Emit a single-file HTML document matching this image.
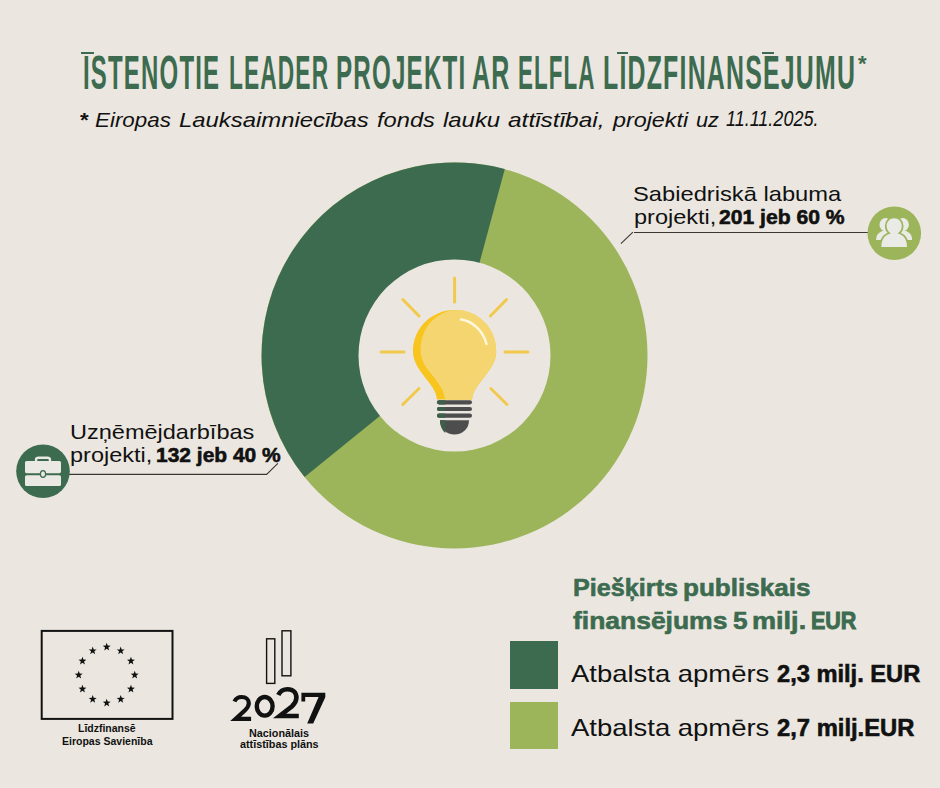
<!DOCTYPE html>
<html><head><meta charset="utf-8">
<style>
html,body{margin:0;padding:0;}
body{width:940px;height:788px;background:#EBE7E0;position:relative;overflow:hidden;font-family:"Liberation Sans",sans-serif;color:#111;}
.a{position:absolute;white-space:nowrap;}
.sx{display:inline-block;transform-origin:0 0;}
.hv{-webkit-text-stroke-width:0.6px;}
</style></head><body>

<!-- Title -->
<div class="a" style="left:83.4px;top:47.5px;font-size:49px;line-height:49px;font-weight:700;color:#3D6B4F;letter-spacing:2.4px"><span class="sx" style="transform:scaleX(0.4897)">ISTENOTIE</span></div>
<div class="a" style="left:228.6px;top:47.5px;font-size:49px;line-height:49px;font-weight:700;color:#3D6B4F;letter-spacing:2.4px"><span class="sx" style="transform:scaleX(0.4641)">LEADER</span></div>
<div class="a" style="left:336.2px;top:47.5px;font-size:49px;line-height:49px;font-weight:700;color:#3D6B4F;letter-spacing:2.4px"><span class="sx" style="transform:scaleX(0.4934)">PROJEKTI</span></div>
<div class="a" style="left:471.9px;top:47.5px;font-size:49px;line-height:49px;font-weight:700;color:#3D6B4F;letter-spacing:2.4px"><span class="sx" style="transform:scaleX(0.5099)">AR</span></div>
<div class="a" style="left:517.8px;top:47.5px;font-size:49px;line-height:49px;font-weight:700;color:#3D6B4F;letter-spacing:2.4px"><span class="sx" style="transform:scaleX(0.4571)">ELFLA</span></div>
<div class="a" style="left:602.8px;top:47.5px;font-size:49px;line-height:49px;font-weight:700;color:#3D6B4F;letter-spacing:2.4px"><span class="sx" style="transform:scaleX(0.5075)">LIDZFINANSEJUMU</span></div>
<div class="a" style="left:81.1px;top:51.8px;width:12.8px;height:2px;background:#3D6B4F"></div>
<div class="a" style="left:616.6px;top:51.8px;width:11.9px;height:2px;background:#3D6B4F"></div>
<div class="a" style="left:762px;top:51.9px;width:11.9px;height:2px;background:#3D6B4F"></div>
<div class="a" style="left:858px;top:53px;font-size:22px;font-weight:700;color:#3D6B4F;line-height:22px;">*</div>

<div class="a" style="left:80.3px;top:109px;font-size:21px;line-height:21px;font-weight:700"><span class="sx" style="transform:scaleX(1.0625)">*</span></div>
<div class="a" style="left:95.1px;top:109px;font-size:21px;line-height:21px;font-style:italic"><span class="sx" style="transform:scaleX(1.0648)">Eiropas</span></div>
<div class="a" style="left:178.8px;top:109px;font-size:21px;line-height:21px;font-style:italic"><span class="sx" style="transform:scaleX(1.1371)">Lauksaimniecības</span></div>
<div class="a" style="left:377.0px;top:109px;font-size:21px;line-height:21px;font-style:italic"><span class="sx" style="transform:scaleX(1.1275)">fonds</span></div>
<div class="a" style="left:443.1px;top:109px;font-size:21px;line-height:21px;font-style:italic"><span class="sx" style="transform:scaleX(1.1380)">lauku</span></div>
<div class="a" style="left:507.9px;top:109px;font-size:21px;line-height:21px;font-style:italic"><span class="sx" style="transform:scaleX(1.1642)">attīstībai,</span></div>
<div class="a" style="left:612.9px;top:109px;font-size:21px;line-height:21px;font-style:italic"><span class="sx" style="transform:scaleX(1.1101)">projekti</span></div>
<div class="a" style="left:695.6px;top:109px;font-size:21px;line-height:21px;font-style:italic"><span class="sx" style="transform:scaleX(1.0333)">uz</span></div>
<div class="a" style="left:726.4px;top:107.5px;font-size:22.5px;line-height:22.5px;font-style:italic"><span class="sx" style="transform:scaleX(0.8000)">11.11.2025.</span></div>

<!-- Donut -->
<svg class="a" style="left:0;top:0" width="940" height="788" viewBox="0 0 940 788">
  <circle cx="454.5" cy="355.5" r="193" fill="#9CB55B"/>
  <path d="M454.5 355.5 L304.6 476.9 A193 193 0 0 1 504.8 169.1 Z" fill="#3D6B4F"/>
  <circle cx="454.5" cy="355.5" r="96" fill="#EBE7E0"/>
  <!-- rays -->
  <g stroke="#F2C94C" stroke-width="3" stroke-linecap="round">
    <line x1="454.6" y1="278" x2="454.6" y2="302"/>
    <line x1="402.8" y1="299.5" x2="419" y2="316"/>
    <line x1="506.6" y1="299.5" x2="490.4" y2="316"/>
    <line x1="381" y1="352" x2="404" y2="352"/>
    <line x1="505" y1="352" x2="528" y2="352"/>
    <line x1="402.8" y1="404.5" x2="419" y2="388.5"/>
    <line x1="490.8" y1="388.5" x2="507" y2="404.5"/>
  </g>
  <!-- bulb -->
  <path d="M437 399.5 C436 390 430 384 424 376 C417 367 413 360 413 351 C413 328 431.5 310 454.6 310 C477.7 310 496.2 328 496.2 351 C496.2 360 492 367 485 376 C479 384 473 390 472 399.5 Z" fill="#F7C51E"/>
  <path d="M445 400.5 C444.5 392 440.5 386 434.5 378 C426 368 420.5 360 420.5 351 C420.5 327 437 310 458 310 C479 311 496.2 328 496.2 351 C496.2 360 492 367 485 376 C479 384 473 390 472 399.5 Z" fill="#F5D56F"/>
  <path d="M461 319.5 C472 321 483 330 486.5 344" stroke="#FFF8E0" stroke-width="2.4" fill="none" stroke-linecap="round"/>
  <g fill="#4D4D4D">
    <rect x="437" y="400.2" width="35" height="4.2" rx="2.1"/>
    <rect x="437" y="406.9" width="35" height="4.1" rx="2.05"/>
    <rect x="437" y="413.6" width="35" height="4.1" rx="2.05"/>
    <path d="M440 420.3 L469 420.3 C469 429 462.5 434.5 454.5 434.5 C446.5 434.5 440 429 440 420.3 Z"/>
  </g>
  <g fill="#3D5F49">
    <path d="M439.1 400.2 L445.4 400.2 L445.4 404.4 L439.1 404.4 A2.1 2.1 0 0 1 439.1 400.2Z"/>
    <path d="M439.05 406.9 L445.4 406.9 L445.4 411 L439.05 411 A2.05 2.05 0 0 1 439.05 406.9Z"/>
    <path d="M439.05 413.6 L445.4 413.6 L445.4 417.7 L439.05 417.7 A2.05 2.05 0 0 1 439.05 413.6Z"/>
    <path d="M440 420.3 L445.4 420.3 L445.4 433 C442 430.5 440 426 440 420.3Z"/>
  </g>

  <!-- right label line -->
  <g stroke="#3a3835" stroke-width="1.1" fill="none"><line x1="620.9" y1="243.7" x2="632.9" y2="232.2"/><line x1="634" y1="232.5" x2="868" y2="232.5"/></g>
  <circle cx="894.3" cy="233.2" r="26.8" fill="#9CB55B"/>
  <!-- people icon -->
  <g fill="#EAEAE6">
    <ellipse cx="885.6" cy="224.7" rx="6.1" ry="6.6"/>
    <path d="M876.1 239.9 C876.1 234 880.5 230.6 886 230.6 C891.5 230.6 896 234 896 239.9 Z"/>
    <ellipse cx="902.8" cy="224.7" rx="6.1" ry="6.6"/>
    <path d="M892.4 239.9 C892.4 234 896.9 230.6 902.4 230.6 C907.9 230.6 912.1 234 912.1 239.9 Z"/>
  </g>
  <g fill="#EAEAE6" stroke="#9CB55B" stroke-width="3.4" style="paint-order:stroke">
    <path d="M894.2 218.3 C898.5 218.3 901.8 221.7 901.8 226 C901.8 229.5 899.8 232.2 897.5 233.6 C903.2 234.6 907 239 907 246.9 L881.4 246.9 C881.4 239 885.2 234.6 890.9 233.6 C888.6 232.2 886.6 229.5 886.6 226 C886.6 221.7 889.9 218.3 894.2 218.3 Z"/>
  </g>

  <!-- left label line -->
  <polyline points="69,474.4 266.6,474.4 277.9,463.3" fill="none" stroke="#3a3835" stroke-width="1.1"/>
  <circle cx="43" cy="471.2" r="26.8" fill="#3D6B4F"/>
  <!-- briefcase -->
  <g fill="#EBE9E4">
    <path d="M34.9 461 L34.9 459.5 C34.9 457.5 36.5 456.6 38.5 456.6 L47.5 456.6 C49.5 456.6 51.1 457.5 51.1 459.5 L51.1 461 L48.8 461 L48.8 460 C48.8 459.2 48.2 458.9 47.4 458.9 L38.6 458.9 C37.8 458.9 37.2 459.2 37.2 460 L37.2 461Z"/>
    <rect x="25" y="461" width="36" height="12.2" rx="1.6"/>
    <rect x="25" y="475.2" width="36" height="10.9" rx="1.6"/>
  </g>
  <ellipse cx="43" cy="474" rx="2.6" ry="3.3" fill="#EBE9E4" stroke="#3D6B4F" stroke-width="1.2"/>

  <!-- EU flag -->
  <rect x="41.7" y="630.9" width="130.8" height="88" fill="none" stroke="#111" stroke-width="2"/>
  <g id="stars" fill="#111"><polygon points="106.70,642.80 107.70,645.62 110.69,645.70 108.32,647.53 109.17,650.40 106.70,648.70 104.23,650.40 105.08,647.53 102.71,645.70 105.70,645.62"/><polygon points="120.70,646.55 121.70,649.38 124.69,649.45 122.32,651.28 123.17,654.15 120.70,652.45 118.23,654.15 119.08,651.28 116.71,649.45 119.70,649.38"/><polygon points="130.95,656.80 131.95,659.62 134.94,659.70 132.57,661.53 133.42,664.40 130.95,662.70 128.48,664.40 129.33,661.53 126.95,659.70 129.95,659.62"/><polygon points="134.70,670.80 135.70,673.62 138.69,673.70 136.32,675.53 137.17,678.40 134.70,676.70 132.23,678.40 133.08,675.53 130.71,673.70 133.70,673.62"/><polygon points="130.95,684.80 131.95,687.62 134.94,687.70 132.57,689.53 133.42,692.40 130.95,690.70 128.48,692.40 129.33,689.53 126.95,687.70 129.95,687.62"/><polygon points="120.70,695.05 121.70,697.87 124.69,697.95 122.32,699.77 123.17,702.65 120.70,700.95 118.23,702.65 119.08,699.77 116.71,697.95 119.70,697.87"/><polygon points="106.70,698.80 107.70,701.62 110.69,701.70 108.32,703.53 109.17,706.40 106.70,704.70 104.23,706.40 105.08,703.53 102.71,701.70 105.70,701.62"/><polygon points="92.70,695.05 93.70,697.87 96.69,697.95 94.32,699.77 95.17,702.65 92.70,700.95 90.23,702.65 91.08,699.77 88.71,697.95 91.70,697.87"/><polygon points="82.45,684.80 83.45,687.62 86.45,687.70 84.07,689.53 84.92,692.40 82.45,690.70 79.98,692.40 80.83,689.53 78.46,687.70 81.45,687.62"/><polygon points="78.70,670.80 79.70,673.62 82.69,673.70 80.32,675.53 81.17,678.40 78.70,676.70 76.23,678.40 77.08,675.53 74.71,673.70 77.70,673.62"/><polygon points="82.45,656.80 83.45,659.62 86.45,659.70 84.07,661.53 84.92,664.40 82.45,662.70 79.98,664.40 80.83,661.53 78.46,659.70 81.45,659.62"/><polygon points="92.70,646.55 93.70,649.38 96.69,649.45 94.32,651.28 95.17,654.15 92.70,652.45 90.23,654.15 91.08,651.28 88.71,649.45 91.70,649.38"/></g>

  <!-- 2027 bars -->
  <rect x="266.6" y="638.8" width="8.2" height="44.6" fill="none" stroke="#111" stroke-width="1.4"/>
  <rect x="282" y="630.8" width="8.9" height="45" fill="none" stroke="#111" stroke-width="1.4"/>

  <!-- legend squares -->
  <rect x="510" y="641" width="48" height="48" fill="#3D6B4F"/>
  <rect x="510" y="702" width="48" height="47" fill="#9CB55B"/>
</svg>

<!-- right label text -->
<div class="a" style="left:633px;top:183px;font-size:21px;line-height:21px;"><span class="sx" style="transform:scaleX(1.1288)">Sabiedriskā labuma</span></div>
<div class="a" style="left:633.6px;top:206px;font-size:21px;line-height:21px;"><span class="sx" style="transform:scaleX(1.1197)">projekti,</span></div>
<div class="a" style="left:719.4px;top:206px;font-size:21px;line-height:21px;font-weight:700"><span class="sx hv" style="transform:scaleX(1.0056)">201 jeb 60 %</span></div>

<!-- left label text -->
<div class="a" style="left:70px;top:421px;font-size:21px;line-height:21px;"><span class="sx" style="transform:scaleX(1.1198)">Uzņēmējdarbības</span></div>
<div class="a" style="left:70.4px;top:444px;font-size:21px;line-height:21px;"><span class="sx" style="transform:scaleX(1.1183)">projekti,</span></div>
<div class="a" style="left:156.2px;top:444px;font-size:21px;line-height:21px;font-weight:700"><span class="sx hv" style="transform:scaleX(0.9984)">132 jeb 40 %</span></div>

<!-- bottom right -->
<div class="a" style="left:572.8px;top:576px;font-size:24px;line-height:24px;font-weight:700;color:#3D6B4F"><span class="sx hv" style="transform:scaleX(1.0500)">Piešķirts</span></div>
<div class="a" style="left:682.9px;top:576px;font-size:24px;line-height:24px;font-weight:700;color:#3D6B4F"><span class="sx hv" style="transform:scaleX(1.0862)">publiskais</span></div>
<div class="a" style="left:573.0px;top:609px;font-size:24px;line-height:24px;font-weight:700;color:#3D6B4F"><span class="sx hv" style="transform:scaleX(1.1022)">finansējums</span></div>
<div class="a" style="left:732.7px;top:609px;font-size:24px;line-height:24px;font-weight:700;color:#3D6B4F"><span class="sx hv" style="transform:scaleX(1.0917)">5</span></div>
<div class="a" style="left:752.2px;top:609px;font-size:24px;line-height:24px;font-weight:700;color:#3D6B4F"><span class="sx hv" style="transform:scaleX(1.1283)">milj.</span></div>
<div class="a" style="left:811.4px;top:609px;font-size:24px;line-height:24px;font-weight:700;color:#3D6B4F"><span class="sx hv" style="transform:scaleX(0.8959);-webkit-text-stroke-width:1px">EUR</span></div>
<div class="a" style="left:571.3px;top:662px;font-size:24px;line-height:24px;"><span class="sx" style="transform:scaleX(1.1434)">Atbalsta apmērs</span></div>
<div class="a" style="left:776.7px;top:662px;font-size:24px;line-height:24px;font-weight:700"><span class="sx hv" style="transform:scaleX(0.9854)">2,3 milj. EUR</span></div>
<div class="a" style="left:571.3px;top:716px;font-size:24px;line-height:24px;"><span class="sx" style="transform:scaleX(1.1434)">Atbalsta apmērs</span></div>
<div class="a" style="left:776.7px;top:716px;font-size:24px;line-height:24px;font-weight:700"><span class="sx hv" style="transform:scaleX(0.9905)">2,7 milj.EUR</span></div>

<!-- EU text -->
<div class="a" style="left:78px;top:722.5px;font-size:10px;font-weight:700;line-height:12px;">
<span class="sx" style="transform:scaleX(1.047)">Līdzfinansē</span></div>
<div class="a" style="left:61.8px;top:735.8px;font-size:10px;font-weight:700;line-height:12px;">
<span class="sx" style="transform:scaleX(1.051)">Eiropas Savienība</span></div>

<!-- 2027 -->
<svg class="a" style="left:0;top:0" width="940" height="788" viewBox="0 0 940 788">
  <g fill="none" stroke="#111" stroke-linejoin="miter">
    <path d="M234.5 701.5 C235.8 698.4 238.6 697 241.7 697 C246 697 248.8 699.5 248.8 703.3 C248.8 705.7 247.7 707.7 245.3 710 L235.6 718.9 L251.1 718.9" stroke-width="4.2"/>
    <ellipse cx="264.7" cy="706.35" rx="7.9" ry="9.3" stroke-width="4.4"/>
    <path d="M278.3 695 C280.2 691 283.8 689.2 287.6 689.2 C293.2 689.2 296.4 692.7 296.4 697.8 C296.4 700.8 295.2 703.3 292.1 706.2 L279.6 716 L298.8 716" stroke-width="4.6"/>
  </g>
  <polygon fill="#111" points="301.4,692.8 325.3,692.8 325.3,697.3 313.2,723.6 307.2,723.6 318.6,697.1 305.2,697.1 305.2,701.5 301.4,701.5"/>
</svg>
<div class="a" style="left:248.8px;top:727.5px;font-size:10px;font-weight:700;line-height:11px;">
<span class="sx" style="transform:scaleX(1.08)">Nacionālais</span></div>
<div class="a" style="left:239.5px;top:738.5px;font-size:10px;font-weight:700;line-height:11px;">
<span class="sx" style="transform:scaleX(1.08)">attīstības plāns</span></div>

</body></html>
